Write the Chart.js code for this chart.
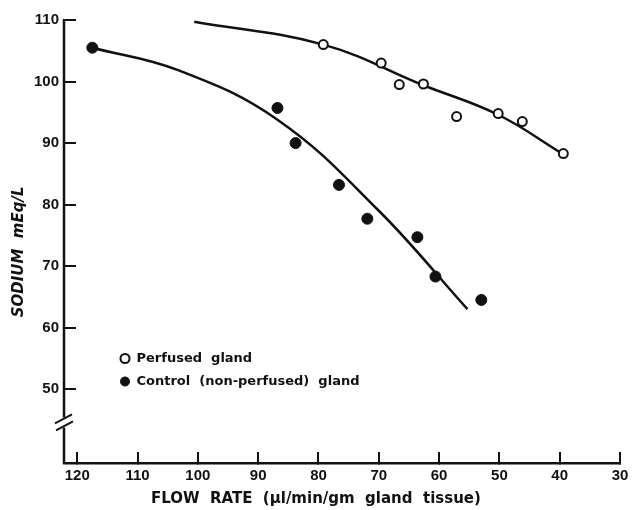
<!DOCTYPE html>
<html><head><meta charset="utf-8">
<script src="https://cdn.jsdelivr.net/npm/chart.js@4.4.1/dist/chart.umd.min.js"></script>
<style>html,body{margin:0;padding:0;background:#fff}</style>
</head><body>
<canvas id="c" width="633" height="510"></canvas>
<script>
// Data
const perfusedFlow   = [79.2, 69.6, 66.6, 62.6, 57.1, 50.2, 46.2, 39.4];
const perfusedSodium = [106.0, 103.0, 99.5, 99.6, 94.3, 94.8, 93.5, 88.3];
const controlFlow    = [117.5, 86.8, 83.8, 76.6, 71.9, 63.6, 60.6, 53.0];
const controlSodium  = [105.5, 95.7, 90.0, 83.2, 77.7, 74.7, 68.3, 64.5];
// Hand-drawn fitted curves
const perfusedCurveFlow   = [100.6, 79.2, 62.6, 50.2, 39.6];
const perfusedCurveSodium = [109.7, 106.0, 99.4, 94.6, 88.3];
const controlCurveFlow    = [117.5, 103.4, 86.8, 70.2, 55.3];
const controlCurveSodium  = [105.5, 101.9, 93.8, 79.2, 63.0];
const xTicks = [120, 110, 100, 90, 80, 70, 60, 50, 40, 30];
const yTicks = [50, 60, 70, 80, 90, 100, 110];
const seriesLabels = ['Perfused  gland', 'Control  (non-perfused)  gland'];
const xTitle = 'FLOW  RATE  (\u03bcl/min/gm  gland  tissue)';
const yTitle = 'SODIUM  mEq/L';
const yBreakAt = 44.6;

const ink = '#111';
const pts = (xs, ys) => xs.map((x, i) => ({x, y: ys[i]}));

const brokenAxis = {
  id: 'brokenAxis',
  afterLayout(chart) {
    const lg = chart.legend, a = chart.chartArea;
    if (lg) {
      lg.left = a.left + 46; lg.right = a.left + 400;
      lg.top = a.top + 322; lg.bottom = a.top + 430;
      lg.width = lg.right - lg.left; lg.height = lg.bottom - lg.top;
    }
  },
  afterDraw(chart) {
    const {ctx} = chart;
    const ys = chart.scales.y;
    const x = chart.chartArea.left;
    const top = ys.getPixelForValue(110);
    const bot = ys.bottom + 1;
    const yc = ys.getPixelForValue(yBreakAt);
    ctx.save();
    ctx.strokeStyle = ink;
    ctx.lineWidth = 2.5;
    ctx.beginPath();
    ctx.moveTo(x, top - 1); ctx.lineTo(x, yc - 5);
    ctx.moveTo(x, yc + 5); ctx.lineTo(x, bot);
    ctx.stroke();
    ctx.lineWidth = 2;
    ctx.beginPath();
    ctx.moveTo(x - 9, yc + 1); ctx.lineTo(x + 8, yc - 8);
    ctx.moveTo(x - 8, yc + 8); ctx.lineTo(x + 9, yc - 1);
    ctx.stroke();
    ctx.restore();
  }
};

const tickFont = {family: '"Liberation Sans", Arial, sans-serif', size: 15, weight: 'bold'};
const textFont = {family: '"DejaVu Sans", sans-serif', size: 13, weight: 'bold'};

new Chart(document.getElementById('c'), {
  type: 'scatter',
  data: {
    datasets: [
      {label: seriesLabels[0], data: pts(perfusedFlow, perfusedSodium), order: 0,
       pointStyle: 'circle', pointRadius: 4.5, pointBorderWidth: 2,
       pointBackgroundColor: '#fff', pointBorderColor: ink, backgroundColor: '#fff', borderColor: ink, borderWidth: 2},
      {label: seriesLabels[1], data: pts(controlFlow, controlSodium), order: 0,
       pointStyle: 'circle', pointRadius: 5.5, pointBorderWidth: 1,
       pointBackgroundColor: ink, pointBorderColor: ink, backgroundColor: ink, borderColor: ink, borderWidth: 1},
      {label: 'perfused fit', data: pts(perfusedCurveFlow, perfusedCurveSodium), order: 1,
       showLine: true, pointRadius: 0, borderColor: ink, borderWidth: 2.5, tension: 0.4},
      {label: 'control fit', data: pts(controlCurveFlow, controlCurveSodium), order: 1,
       showLine: true, pointRadius: 0, borderColor: ink, borderWidth: 2.5, tension: 0.4}
    ]
  },
  options: {
    responsive: false,
    animation: false,
    devicePixelRatio: 1,
    layout: {padding: {top: 20, right: 13, left: 0, bottom: 0}},
    plugins: {
      tooltip: {enabled: false},
      legend: {
        position: 'chartArea',
        align: 'start',
        labels: {
          filter: item => item.datasetIndex < 2,
          usePointStyle: true, boxWidth: 10, boxHeight: 6.4, padding: 10,
          color: ink, font: textFont
        }
      }
    },
    scales: {
      x: {
        type: 'linear', reverse: true, min: 30, max: 122.2,
        afterBuildTicks: s => { s.ticks = xTicks.map(v => ({value: v})); },
        afterFit: s => { s.height = 47; s.paddingLeft = 0; s.paddingRight = 0; },
        grid: {drawOnChartArea: false, drawTicks: true, tickLength: -11, color: ink, lineWidth: 2},
        border: {display: true, color: ink, width: 2.5},
        ticks: {padding: 15, color: ink, font: tickFont, autoSkip: false, maxRotation: 0, callback: v => String(v)},
        title: {display: true, text: xTitle + '          ', color: ink, font: {...textFont, size: 15}, padding: {top: 0, bottom: 2}}
      },
      y: {
        type: 'linear', min: 38, max: 110,
        afterBuildTicks: s => { s.ticks = yTicks.map(v => ({value: v})); },
        afterFit: s => { s.width = 64; s.paddingTop = 0; s.paddingBottom = 0; },
        grid: {drawOnChartArea: false, drawTicks: true, tickLength: -12, color: ink, lineWidth: 2},
        border: {display: false},
        ticks: {padding: 17, color: ink, font: tickFont, autoSkip: false, callback: v => String(v)},
        title: {display: true, text: yTitle + '    ', color: ink, font: {...textFont, size: 15, style: 'italic'}, padding: {top: 10, bottom: 0}}
      }
    }
  },
  plugins: [brokenAxis]
});
</script>
</body></html>
